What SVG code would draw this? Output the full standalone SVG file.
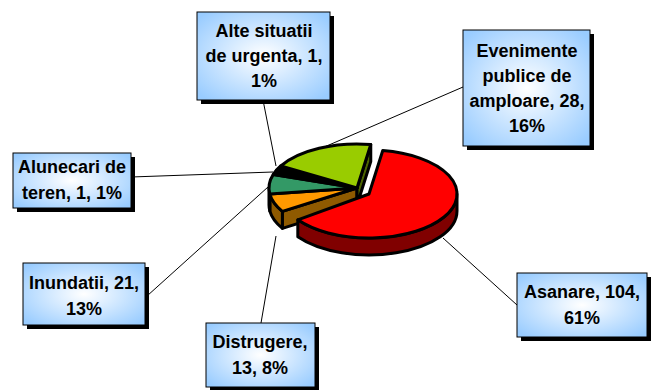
<svg xmlns="http://www.w3.org/2000/svg" width="656" height="390" viewBox="0 0 656 390">
<defs>
<radialGradient id="boxfill" cx="0.5" cy="0.5" r="0.65">
<stop offset="0" stop-color="#FFFFFF"/>
<stop offset="1" stop-color="#99CCFF"/>
</radialGradient>
<style>
.box{fill:url(#boxfill);stroke:#000;stroke-width:1}
.shadow{fill:#000}
.lbl{font-family:"Liberation Sans",Arial,sans-serif;font-weight:bold;font-size:18px;fill:#000;text-anchor:middle}
.lead{stroke:#000;stroke-width:1;fill:none}
.pie path{stroke:#000;stroke-width:3;stroke-linejoin:round}
</style>
</defs>
<rect width="656" height="390" fill="#FFFFFF"/>

<g id="connectors">
<line class="lead" x1="263" y1="100" x2="276" y2="166"/>
<line class="lead" x1="463" y1="87" x2="322" y2="148"/>
<line class="lead" x1="131" y1="177" x2="273" y2="172"/>
<line class="lead" x1="147" y1="296" x2="268" y2="187"/>
<line class="lead" x1="261" y1="323" x2="276" y2="236"/>
<line class="lead" x1="443" y1="238" x2="517" y2="305"/>
</g>

<g class="pie" id="pie">
<g id="slice-distrugere-walls">
<path d="M357,188 L282.38,211.32 L282.38,228.32 L357,205 Z" fill="#8F5A00"/>
<path d="M282.38,211.32 A88,44 0 0 1 269.85,194.12 L269.85,211.12 A88,44 0 0 0 282.38,228.32 Z" fill="#8F5A00"/>
</g>
<g id="slice-inundatii-wall">
<path d="M269.85,194.12 A88,44 0 0 1 269,188 L269,205 A88,44 0 0 0 269.85,211.12 Z" fill="#1A4D33"/>
</g>
<g id="slice-evenimente-wall">
<path d="M357,188 L370.76,144.54 L370.76,161.54 L357,205 Z" fill="#4D6600"/>
</g>
<g id="slice-distrugere">
<path d="M357,188 L282.38,211.32 A88,44 0 0 1 269.85,194.12 Z" fill="#FF9900"/>
</g>
<g id="slice-inundatii">
<path d="M357,188 L269.85,194.12 A88,44 0 0 1 273.30,174.40 Z" fill="#339966"/>
</g>
<g id="slice-alunecari">
<path d="M357,188 L273.30,174.40 A88,44 0 0 1 276.61,170.10 Z" fill="#000000"/>
</g>
<g id="slice-alte">
<path d="M357,188 L276.61,170.10 A88,44 0 0 1 280.79,166.00 Z" fill="#000000"/>
</g>
<g id="slice-evenimente">
<path d="M357,188 L280.79,166.00 A88,44 0 0 1 370.76,144.54 Z" fill="#99CC00"/>
</g>
<g id="slice-asanare">
<path d="M457,194 A88,44 0 0 1 297.81,219.86 L297.81,236.86 A88,44 0 0 0 457,211 Z" fill="#800000"/>
<path d="M369,194 L382.76,150.54 A88,44 0 1 1 297.81,219.86 Z" fill="#FF0000"/>
</g>
</g>

<g id="label-alte">
<rect class="shadow" x="201" y="16" width="133" height="88"/>
<rect class="box" x="197" y="12" width="133" height="88"/>
<text class="lbl" x="264" y="37">Alte situatii</text>
<text class="lbl" x="264" y="62">de urgenta, 1,</text>
<text class="lbl" x="264" y="87">1%</text>
</g>

<g id="label-evenimente">
<rect class="shadow" x="467" y="34" width="127" height="116"/>
<rect class="box" x="463" y="30" width="127" height="116"/>
<text class="lbl" x="527" y="57">Evenimente</text>
<text class="lbl" x="527" y="82">publice de</text>
<text class="lbl" x="527" y="107">amploare, 28,</text>
<text class="lbl" x="527" y="132">16%</text>
</g>

<g id="label-alunecari">
<rect class="shadow" x="17" y="157" width="118" height="55"/>
<rect class="box" x="13" y="153" width="118" height="55"/>
<text class="lbl" x="72" y="173">Alunecari de</text>
<text class="lbl" x="72" y="199">teren, 1, 1%</text>
</g>

<g id="label-inundatii">
<rect class="shadow" x="27" y="267" width="122" height="62"/>
<rect class="box" x="23" y="263" width="122" height="62"/>
<text class="lbl" x="84" y="289">Inundatii, 21,</text>
<text class="lbl" x="84" y="315">13%</text>
</g>

<g id="label-distrugere">
<rect class="shadow" x="210" y="327" width="109" height="64"/>
<rect class="box" x="206" y="323" width="109" height="64"/>
<text class="lbl" x="260" y="348">Distrugere,</text>
<text class="lbl" x="260" y="374">13, 8%</text>
</g>

<g id="label-asanare">
<rect class="shadow" x="521" y="277" width="130" height="64"/>
<rect class="box" x="517" y="273" width="130" height="64"/>
<text class="lbl" x="582" y="298">Asanare, 104,</text>
<text class="lbl" x="582" y="324">61%</text>
</g>
</svg>
